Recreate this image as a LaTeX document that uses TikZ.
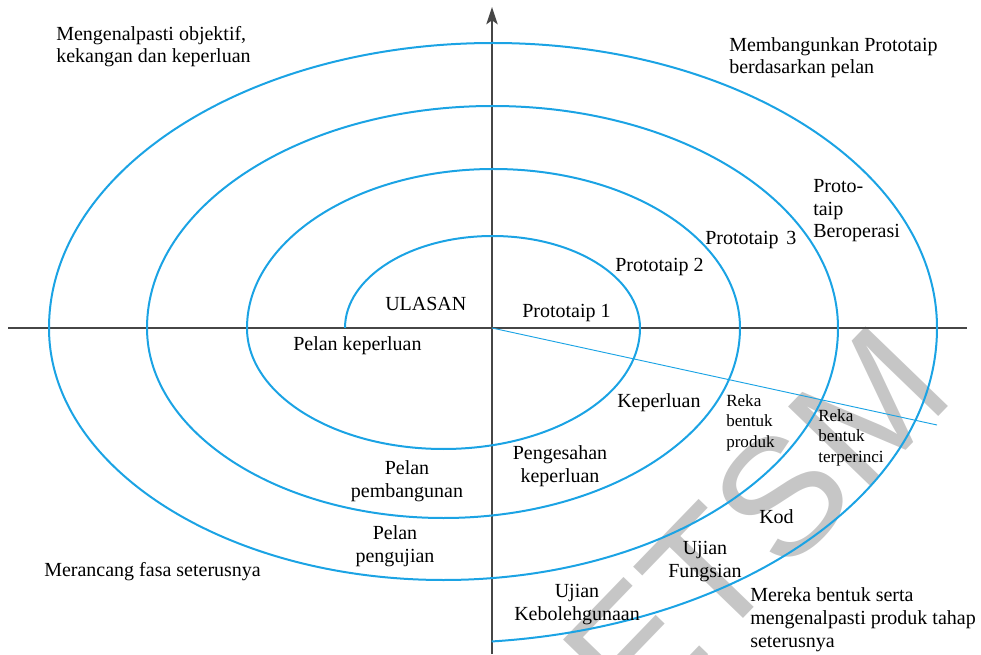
\documentclass[tikz,border=0pt]{standalone}
\usepackage{fontspec}
\setmainfont{Liberation Serif}
\newfontfamily\lblfont{Liberation Serif}
\newfontfamily\wmfont{Liberation Sans}
\usetikzlibrary{arrows.meta}
\definecolor{spiralblue}{RGB}{27,163,228}
\definecolor{axisgray}{RGB}{70,70,70}
\definecolor{wmgray}{RGB}{198,198,198}
\begin{document}
\begin{tikzpicture}[x=0.75pt,y=0.75pt,
  spiral/.style={draw=spiralblue,line width=1.5pt},
  thinline/.style={draw=spiralblue,line width=0.7pt},
  axisline/.style={draw=axisgray,line width=1pt},
  lbl/.style={inner sep=0pt,font=\lblfont\fontsize{15}{17}\selectfont},
  smalllbl/.style={inner sep=0pt,font=\lblfont\fontsize{12.8}{15.2}\selectfont},
  wm/.style={inner sep=0pt,text=wmgray,font=\wmfont\fontsize{125}{130}\selectfont}]
\useasboundingbox (0,0) rectangle (981,654);
% watermark
\begin{scope}
\clip (0,0) rectangle (981,654);
\node[wm,anchor=base west,rotate=46] (wmark) at (636,-76) {ETSM};
\end{scope}
% axes
\coordinate (hl) at (8,326);
\coordinate (hr) at (967,326);
\coordinate (vb) at (492,0);
\coordinate (vt) at (492,647);
\coordinate (o) at (492,326);
\draw[axisline] (hl) -- (hr);
\draw[axisline,-{Stealth[length=13pt,width=8.5pt,inset=3pt]}] (vb) -- (vt);
% spiral
\coordinate (s0) at (345,326);
\draw[spiral] (s0)
 arc[start angle=180,end angle=0,x radius=147.5,y radius=92]
 arc[start angle=0,end angle=-180,x radius=196.5,y radius=121]
 arc[start angle=180,end angle=0,x radius=246.5,y radius=159]
 arc[start angle=0,end angle=-180,x radius=296.5,y radius=190]
 arc[start angle=180,end angle=0,x radius=345.5,y radius=222]
 arc[start angle=0,end angle=-180,x radius=394.5,y radius=252]
 arc[start angle=180,end angle=0,x radius=444,y radius=285]
 arc[start angle=0,end angle=-84.4,x radius=493.5,y radius=315];
% thin line
\coordinate (te) at (937,229);
\draw[thinline] (o) -- (te);
% labels (multi-line nodes: base = last line)
\node[lbl,anchor=base west,align=left] (obj) at (56,591) {Mengenalpasti objektif,\\kekangan dan keperluan};
\node[lbl,anchor=base west,align=left] (build) at (729,580) {Membangunkan Prototaip\\berdasarkan pelan};
\node[lbl,anchor=base west,align=left] (pop) at (813,416) {Proto-\\taip\\Beroperasi};
\node[lbl,anchor=base west] (p3) at (705,409) {Prototaip\hspace{2pt} 3};
\node[lbl,anchor=base west] (p2) at (615,382) {Prototaip 2};
\node[lbl,anchor=base west] (p1) at (522,336) {Prototaip 1};
\node[lbl,anchor=base west] (ulasan) at (385,344) {ULASAN};
\node[lbl,anchor=base west] (pk) at (293,303) {Pelan keperluan};
\node[lbl,anchor=base,align=center] (pb) at (407,157) {Pelan\\pembangunan};
\node[lbl,anchor=base,align=center] (pu) at (395,92) {Pelan\\pengujian};
\node[lbl,anchor=base west] (mf) at (44,78) {Merancang fasa seterusnya};
\node[lbl,anchor=base west] (kep) at (617,247) {Keperluan};
\node[smalllbl,anchor=base west,align=left] (rbp) at (726,207) {Reka\\bentuk\\produk};
\node[smalllbl,anchor=base west,align=left] (rbt) at (818,192) {Reka\\bentuk\\terperinci};
\node[lbl,anchor=base,align=center] (pgk) at (560,172) {Pengesahan\\keperluan};
\node[lbl,anchor=base west] (kod) at (759,131) {Kod};
\node[lbl,anchor=base,align=center] (uf) at (705,77) {Ujian\\Fungsian};
\node[lbl,anchor=base,align=center] (uk) at (577,34) {Ujian\\Kebolehgunaan};
\node[lbl,anchor=base west,align=left] (mb) at (750,7) {Mereka bentuk serta\\mengenalpasti produk tahap\\seterusnya};
\end{tikzpicture}
\end{document}
